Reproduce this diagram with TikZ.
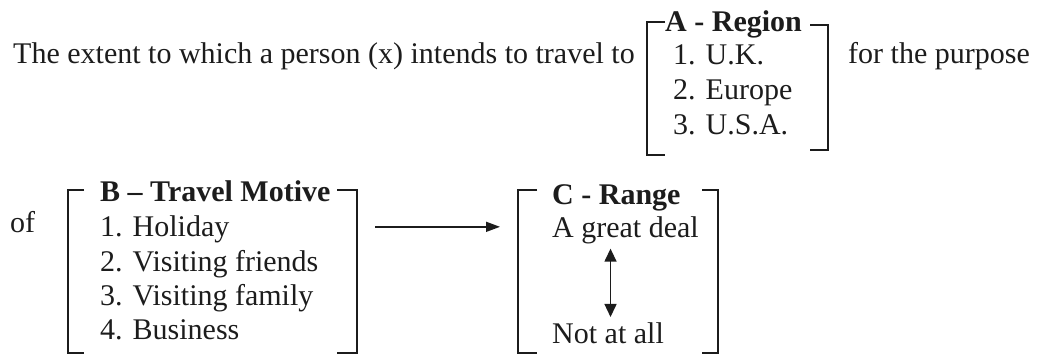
\documentclass[tikz,border=0pt]{standalone}
\usepackage{fontspec}
\setmainfont{Liberation Serif}
\usetikzlibrary{arrows.meta, calc}
\definecolor{ink}{HTML}{1C1C1C}

\begin{document}
\begin{tikzpicture}[x=1pt, y=-1pt, font=\fontsize{30}{35}\selectfont,
    txt/.style={anchor=base west, inner sep=0pt, text=ink},
    hd/.style={txt, font=\fontsize{30}{35}\selectfont\bfseries},
    box/.style={inner sep=0pt, outer sep=0pt},
    brk/.style={ink, line width=1.8pt},
    arr/.style={ink, line width=1.5pt, -{Triangle[length=14pt, width=10pt]}},
    dblarr/.style={ink, line width=1.5pt, {Triangle[length=13pt, width=12pt]}-{Triangle[length=13pt, width=12pt]}}]
  \useasboundingbox (0,0) rectangle (1037,358);
  % first line
  \node[txt] (intro) at (13,64) {The extent to which a person (x) intends to travel to};
  \node[txt] (purpose) at (848,64) {for the purpose};
  \node[box, minimum width=181pt, minimum height=133pt] (boxA) at (737.5,88.5) {};
  \node[hd] (regA) at (665,32) {A - Region};
  \node[txt] (uk) at (673,65) {1. U.K.};
  \node[txt] (europe) at (673,100) {2. Europe};
  \node[txt] (usa) at (673,135) {3. U.S.A.};
  \draw[brk] ([xshift=18pt]boxA.north west) -- (boxA.north west) -- (boxA.south west) -- ++(18,0);
  \draw[brk] ([xshift=-18pt, yshift=-3pt]boxA.north east) -- ([yshift=-3pt]boxA.north east)
    -- ([yshift=5pt]boxA.south east) -- ++(-18,0);
  % second line
  \node[txt] (of) at (10,233) {of};
  \node[box, minimum width=289pt, minimum height=163pt] (boxB) at (212.5,271.5) {};
  \node[hd] (motB) at (100,202) {B -- Travel Motive};
  \node[txt] (holiday) at (100,237) {1. Holiday};
  \node[txt] (friends) at (100,272) {2. Visiting friends};
  \node[txt] (family) at (100,306) {3. Visiting family};
  \node[txt] (business) at (100,340) {4. Business};
  \draw[brk] ([xshift=16pt]boxB.north west) -- (boxB.north west) -- (boxB.south west) -- ++(16,0);
  \draw[brk] ([xshift=-20pt]boxB.north east) -- (boxB.north east) -- (boxB.south east) -- ++(-20,0);
  \node[box, minimum width=200pt, minimum height=163pt] (boxC) at (618,271.5) {};
  \node[hd] (rngC) at (552,205) {C - Range};
  \node[txt] (great) at (552,238) {A great deal};
  \node[txt] (notall) at (552,343) {Not at all};
  \draw[brk] ([xshift=19pt]boxC.north west) -- (boxC.north west) -- (boxC.south west) -- ++(19,0);
  \draw[brk] ([xshift=-16pt]boxC.north east) -- (boxC.north east) -- (boxC.south east) -- ++(-16,0);
  % arrows
  \draw[arr, shorten <=18pt, shorten >=18pt] ([yshift=4pt]boxB.east |- great.west) -- ([yshift=4pt]boxC.west |- great.west);
  \draw[dblarr, shorten <=4pt, shorten >=5pt] ([xshift=2.5pt]notall.north |- great.south) -- ([xshift=2.5pt]notall.north);
\end{tikzpicture}
\end{document}
